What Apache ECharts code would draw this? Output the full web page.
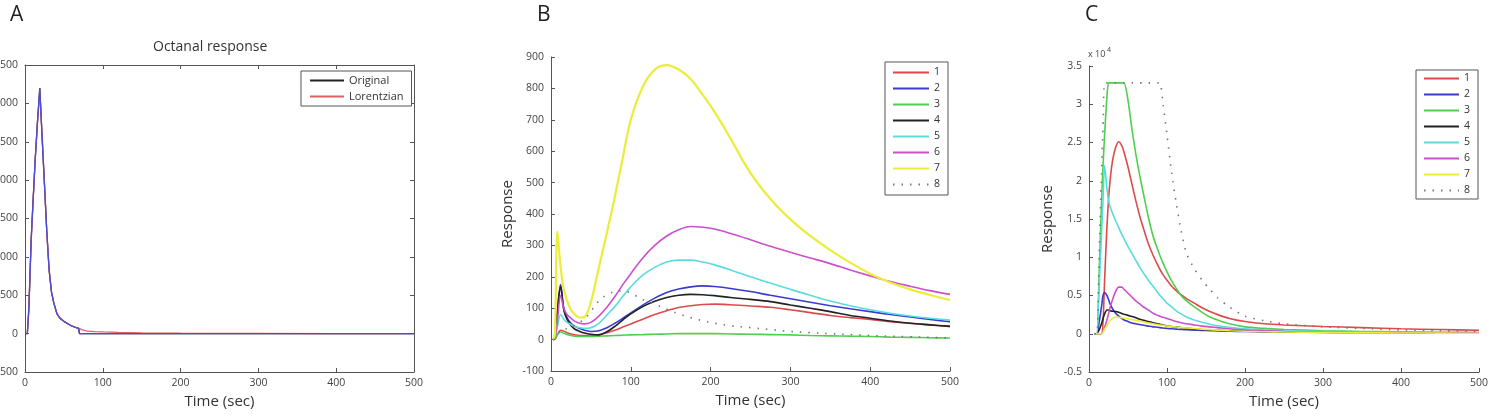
<!DOCTYPE html>
<html>
<head>
<meta charset="utf-8">
<script src="https://cdn.jsdelivr.net/npm/echarts@6/dist/echarts.min.js"></script>
<style>
  html, body { margin: 0; padding: 0; background: #fff; }
  #chart { width: 1490px; height: 420px; }
</style>
</head>
<body>
<div id="chart"></div>
<script>
// Panel A - octanal response
const tA = [0, 3, 5, 8, 10, 13, 16, 19, 22, 25, 28, 31, 34, 37, 41, 45, 50, 55, 60, 65, 69, 70, 75, 80, 90, 100, 120, 150, 200, 250, 300, 400, 500];
const originalA = [0, 0, 350, 1250, 1650, 2250, 2750, 3200, 2550, 1950, 1330, 830, 545, 400, 260, 200, 160, 128, 100, 80, 68, 0, 0, 0, 0, 0, 0, 0, 0, 0, 0, 0, 0];
const lorentzA = [0, 0, 300, 1200, 1650, 2250, 2750, 3150, 2600, 1950, 1330, 830, 545, 400, 260, 200, 160, 128, 100, 80, 68, 62, 45, 33, 27, 22, 16, 10, 5, 3, 2, 1, 0];
const blueA = [0, 0, 330, 1230, 1650, 2250, 2750, 3200, 2560, 1950, 1330, 830, 545, 400, 260, 200, 160, 128, 100, 80, 68, 0, 0, 0, 0, 0, 0, 0, 0, 0, 0, 0, 0];

// Panel B
const tB = [3, 5, 8, 12, 16, 20, 25, 30, 36, 42, 50, 60, 70, 80, 90, 100, 115, 130, 145, 160, 175, 190, 205, 225, 250, 275, 300, 325, 350, 375, 400, 425, 450, 475, 500];
const b1 = [0, 2, 15, 30, 27, 22, 18, 15, 13, 13, 13, 15, 22, 30, 40, 50, 65, 80, 92, 102, 108, 112, 113, 111, 107, 103, 95, 86, 77, 70, 64, 57, 52, 47, 42];
const b2 = [0, 10, 90, 175, 100, 70, 52, 42, 35, 30, 26, 28, 38, 52, 68, 85, 110, 132, 150, 161, 168, 171, 169, 163, 153, 141, 130, 119, 108, 98, 89, 80, 72, 64, 57];
const b3 = [0, 2, 15, 25, 20, 16, 13, 11, 10, 10, 10, 11, 12, 13, 14, 15, 16, 17, 18, 19, 19, 19, 19, 18, 17, 16, 15, 13, 12, 11, 10, 8, 7, 6, 5];
const b4 = [0, 10, 85, 168, 95, 65, 45, 33, 26, 21, 17, 15, 25, 42, 63, 82, 105, 122, 134, 141, 144, 143, 140, 134, 128, 121, 110, 100, 89, 77, 68, 59, 52, 47, 42];
const b5 = [0, 5, 40, 80, 65, 55, 48, 42, 38, 36, 38, 52, 78, 105, 138, 168, 205, 230, 247, 253, 253, 247, 238, 222, 200, 180, 160, 141, 123, 108, 95, 84, 75, 68, 62];
const b6 = [0, 5, 60, 140, 100, 80, 68, 58, 52, 50, 55, 75, 103, 137, 175, 210, 260, 300, 330, 350, 360, 358, 352, 338, 318, 297, 278, 260, 242, 222, 203, 185, 170, 156, 144];
const b7 = [0, 20, 345, 230, 160, 125, 95, 80, 70, 72, 120, 230, 340, 455, 580, 700, 805, 860, 874, 860, 830, 780, 725, 640, 530, 448, 383, 330, 285, 245, 210, 182, 160, 142, 126];
const b8 = [0, 3, 15, 30, 32, 35, 40, 45, 55, 65, 90, 123, 143, 153, 155, 148, 127, 113, 97, 82, 70, 60, 52, 44, 38, 32, 26, 22, 19, 16, 13, 11, 9, 7, 5];

// Panel C (raw values, axis shows x 10^4)
const tC = [7, 10, 13, 16, 18, 20, 23, 25, 27, 30, 34, 38, 42, 45, 50, 55, 60, 65, 70, 76, 82, 88, 91, 95, 100, 106, 112, 118, 125, 135, 145, 155, 165, 180, 200, 225, 250, 300, 350, 400, 450, 500];
const c1 = [0, 0, 0, 0, 1500, 7000, 14000, 17500, 20000, 22500, 24300, 25100, 24600, 23700, 21800, 19600, 17400, 15400, 13700, 11800, 10300, 9000, 8400, 7700, 7000, 6200, 5600, 5100, 4600, 4000, 3400, 2900, 2500, 2000, 1600, 1300, 1150, 950, 800, 650, 550, 450];
const c2 = [0, 0, 1500, 3500, 5000, 5400, 5000, 4500, 3900, 3300, 2700, 2300, 2000, 1800, 1600, 1400, 1300, 1200, 1100, 1000, 900, 850, 800, 750, 700, 650, 600, 550, 520, 480, 440, 400, 370, 330, 290, 250, 220, 180, 150, 120, 100, 80];
const c3 = [0, 0, 8000, 17000, 22000, 26000, 31000, 32800, 32800, 32800, 32800, 32800, 32800, 32800, 30500, 26800, 23500, 20700, 18200, 15300, 12800, 11000, 10200, 9200, 8100, 6900, 5900, 5000, 4300, 3500, 2800, 2200, 1800, 1300, 900, 700, 550, 400, 300, 250, 200, 150];
const c4 = [0, 0, 500, 1300, 2000, 2600, 3100, 3100, 3000, 2950, 2900, 2800, 2650, 2550, 2400, 2250, 2100, 1900, 1750, 1600, 1450, 1300, 1250, 1150, 1050, 950, 880, 800, 720, 630, 560, 500, 460, 400, 350, 300, 250, 200, 160, 130, 100, 80];
const c5 = [0, 0, 6000, 13000, 17500, 22000, 19000, 17500, 16600, 15800, 14800, 13900, 13000, 12400, 11400, 10500, 9600, 8700, 7900, 7000, 6200, 5400, 5000, 4600, 4000, 3500, 3000, 2600, 2200, 1800, 1500, 1250, 1050, 850, 650, 500, 400, 300, 250, 200, 150, 150];
const c6 = [0, 0, 0, 0, 300, 800, 1800, 2600, 3400, 4400, 5500, 6100, 6100, 5800, 5300, 4800, 4300, 3900, 3500, 3100, 2700, 2400, 2300, 2150, 2000, 1800, 1600, 1450, 1300, 1150, 1000, 900, 800, 650, 500, 400, 300, 200, 150, 100, 100, 80];
const c7 = [0, 0, 0, 0, 200, 600, 1100, 1400, 1700, 2000, 2150, 2150, 2100, 2050, 1950, 1850, 1750, 1650, 1550, 1400, 1300, 1200, 1150, 1100, 1000, 950, 880, 820, 750, 680, 600, 540, 480, 400, 330, 270, 220, 160, 120, 100, 80, 60];
const c8 = [0, 0, 10000, 21000, 27000, 32800, 32800, 32800, 32800, 32800, 32800, 32800, 32800, 32800, 32800, 32800, 32800, 32800, 32800, 32800, 32800, 32800, 32800, 30000, 26000, 21000, 17000, 13500, 10500, 8500, 7000, 5800, 4700, 3500, 2300, 1700, 1300, 900, 700, 500, 400, 300];

const xTicks = [0, 500, 100]; // min, max, interval (same for every panel)
const names = ['1', '2', '3', '4', '5', '6', '7', '8'];
const colors = ['#dd4a4a', '#3b3bcc', '#4fcf4f', '#222222', '#5adcdc', '#cc4fcc', '#ecec3a', '#777777'];

const FONT = '"Open Sans", "DejaVu Sans", sans-serif';
const AXC = '#555';
const LABEL = { color: '#444', fontSize: 10.5, margin: 7, fontFamily: FONT, formatter: v => String(v) };

const pairs = (t, v) => t.map((x, i) => [x, v[i]]);

function xAx(grid, opt) {
    return Object.assign({
        type: 'value', gridIndex: grid, min: xTicks[0], max: xTicks[1], interval: xTicks[2],
        axisLine: { onZero: false, lineStyle: { color: AXC, width: 1 } },
        axisTick: { inside: true, length: 4, lineStyle: { color: AXC } },
        axisLabel: Object.assign({}, LABEL, { margin: 6 }),
        splitLine: { show: false },
        name: 'Time (sec)', nameLocation: 'middle', nameGap: 19,
        nameTextStyle: { color: '#333', fontSize: 15, fontFamily: FONT }
    }, opt || {});
}
function yAx(grid, min, max, interval, opt) {
    return Object.assign({
        type: 'value', gridIndex: grid, min: min, max: max, interval: interval,
        axisLine: { onZero: false, lineStyle: { color: AXC, width: 1 } },
        axisTick: { inside: true, length: 4, lineStyle: { color: AXC } },
        axisLabel: LABEL,
        splitLine: { show: false }
    }, opt || {});
}
function line(name, x, y, data, color, width, extra) {
    return Object.assign({
        name: name, type: 'line', xAxisIndex: x, yAxisIndex: y, data: data,
        symbol: 'none', smooth: false,
        lineStyle: { color: color, width: width }, itemStyle: { color: color }
    }, extra || {});
}

const series = [
    line('Original', 0, 0, pairs(tA, originalA), '#222222', 1.3),
    line('Lorentzian', 0, 0, pairs(tA, lorentzA), '#e06060', 1.3),
    line('trace', 0, 0, pairs(tA, blueA), '#4a4ae0', 1.2)
];
[b1, b2, b3, b4, b5, b6, b7, b8].forEach((arr, i) => {
    series.push(line(names[i], 3, 2, pairs(tB, arr), colors[i], i === 6 ? 2.2 : 1.6, {
        smooth: 0.35,
        lineStyle: { color: colors[i], width: i === 6 ? 2.2 : 1.6, type: i === 7 ? [1.5, 7] : 'solid' }
    }));
});
[c1, c2, c3, c4, c5, c6, c7, c8].forEach((arr, i) => {
    series.push(line(names[i], 4, 3, pairs(tC, arr), colors[i], 1.6, {
        smooth: 0.25,
        lineStyle: { color: colors[i], width: 1.6, type: i === 7 ? [1.5, 7] : 'solid' }
    }));
});

const legendBase = {
    orient: 'vertical', backgroundColor: '#fff', borderColor: '#555', borderWidth: 1,
    itemWidth: 35, itemHeight: 10, itemGap: 5, borderRadius: 0,
    itemStyle: { opacity: 0 },
    textStyle: { fontSize: 10.5, color: '#333', fontFamily: FONT, lineHeight: 10 }
};

const option = {
    animation: false,
    backgroundColor: '#fff',
    // outerBoundsMode none: keep the plot boxes where they are, let panel A labels run off the left edge
    grid: [
        { left: 25, top: 65, width: 389, height: 307, outerBoundsMode: 'none', containLabel: false },
        { left: 551, top: 57, width: 399, height: 314, outerBoundsMode: 'none', containLabel: false },
        { left: 1089, top: 66, width: 390, height: 306, outerBoundsMode: 'none', containLabel: false }
    ],
    xAxis: [
        xAx(0),
        xAx(0, { position: 'top', axisLabel: { show: false }, name: '' }),
        xAx(1),
        xAx(1, { show: false }),
        xAx(2)
    ],
    yAxis: [
        yAx(0, -500, 3500, 500),
        yAx(0, -500, 3500, 500, { position: 'right', axisLabel: { show: false } }),
        yAx(1, -100, 900, 100, {
            name: 'Response', nameLocation: 'middle', nameGap: 36,
            nameTextStyle: { color: '#333', fontSize: 15, fontFamily: FONT }
        }),
        yAx(2, -5000, 35000, 5000, {
            name: 'Response', nameLocation: 'middle', nameGap: 34,
            nameTextStyle: { color: '#333', fontSize: 15, fontFamily: FONT },
            axisLabel: Object.assign({}, LABEL, { formatter: v => String(v / 10000) })
        })
    ],
    legend: [
        Object.assign({}, legendBase, {
            left: 301, top: 71, padding: [4, 8, 4, 8], itemWidth: 34,
            textStyle: { fontSize: 11, color: '#333', fontFamily: FONT, lineHeight: 10 },
            data: ['Original', 'Lorentzian']
        }),
        Object.assign({}, legendBase, { left: 885, top: 62, padding: [5, 8, 5, 7], itemWidth: 36, data: names }),
        Object.assign({}, legendBase, { left: 1416, top: 70, padding: [3, 8, 3, 7], data: names })
    ],
    graphic: [
        { type: 'text', left: 10, top: 5, style: { text: 'A', font: '21px ' + FONT, fill: '#222' } },
        { type: 'text', left: 537, top: 5, style: { text: 'B', font: '21px ' + FONT, fill: '#222' } },
        { type: 'text', left: 1085, top: 5, style: { text: 'C', font: '21px ' + FONT, fill: '#222' } },
        { type: 'text', left: 153, top: 40, style: { text: 'Octanal response', font: '14px ' + FONT, fill: '#333' } },
        { type: 'text', left: 1088, top: 50, style: { text: 'x 10', font: '9px ' + FONT, fill: '#444' } },
        { type: 'text', left: 1107, top: 46, style: { text: '4', font: '7px ' + FONT, fill: '#444' } }
    ],
    series: series
};

const chart = echarts.init(document.getElementById('chart'));
chart.setOption(option);
</script>
</body>
</html>
